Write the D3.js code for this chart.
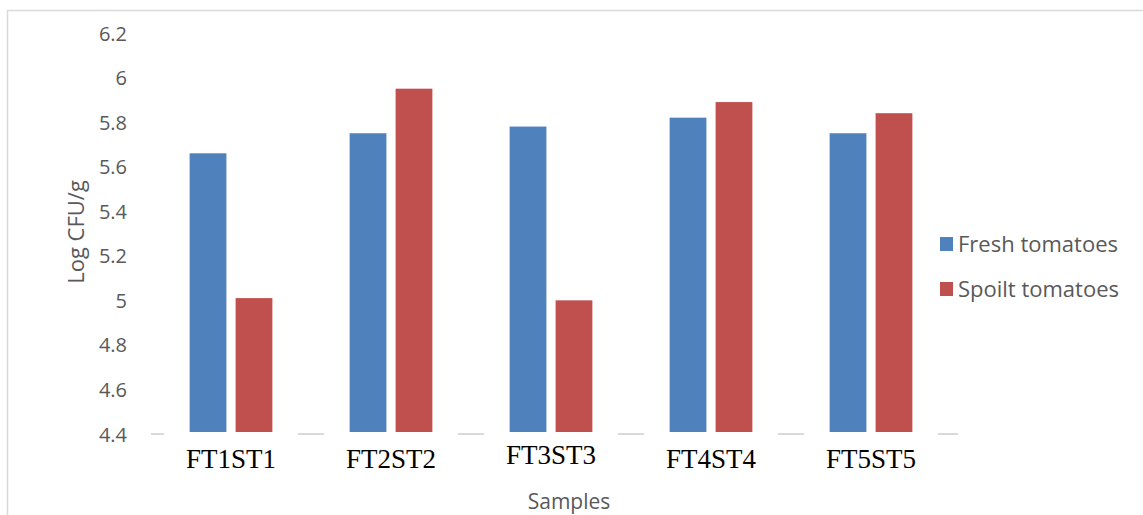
<!DOCTYPE html>
<html><head><meta charset="utf-8">
<script src="https://cdn.jsdelivr.net/npm/d3@7"></script>
<style>body{margin:0;background:#fff}svg{display:block}</style>
</head><body>
<svg id="c" width="1143" height="515"></svg>
<script>
const categories = ["FT1ST1","FT2ST2","FT3ST3","FT4ST4","FT5ST5"];
const seriesNames = ["Fresh tomatoes","Spoilt tomatoes"];
const fresh = [5.66, 5.75, 5.78, 5.82, 5.75];
const spoilt = [5.01, 5.95, 5.00, 5.89, 5.84];
const yTicks = [4.4, 4.6, 4.8, 5, 5.2, 5.4, 5.6, 5.8, 6, 6.2];
const labelShift = [0, 0, -4, 0, 0];
const colors = ["#4F81BD", "#C0504D"];

const svg = d3.select("#c");
// frame
svg.append("path").attr("d","M7.5,515 V10.5 H1143").attr("fill","none").attr("stroke","#D9D9D9").attr("stroke-width",1.5);

const x0 = d3.scaleBand().domain(categories).range([151, 951]).paddingInner(0).paddingOuter(0);
const x1 = d3.scaleBand().domain(seriesNames).range([0, x0.bandwidth()]).paddingInner(0.2).paddingOuter(0.84);
const y = d3.scaleLinear().domain([4.4, 6.2]).range([434, 33]);

// y tick labels
const yAxis = d3.axisLeft(y).tickValues(yTicks).tickSize(0).tickPadding(0).tickFormat(d => String(d));
const ya = svg.append("g").attr("transform","translate(127,0)").call(yAxis);
ya.select(".domain").remove();
ya.selectAll("text").attr("font-family","'Open Sans', sans-serif").attr("font-size",20).attr("fill","#595959").attr("dy","0.35em");

// x axis line
svg.append("line").attr("x1",151).attr("x2",958).attr("y1",434).attr("y2",434).attr("stroke","#D9D9D9").attr("stroke-width",2);

// label patches covering axis
svg.append("g").selectAll("rect").data(categories).join("rect")
  .attr("x", d => x0(d) + x0.bandwidth()/2 - 67).attr("width",134)
  .attr("y",433).attr("height",42).attr("fill","#fff");

// bars
const data = categories.map((c,i) => ({c, vals:[fresh[i], spoilt[i]]}));
const g = svg.append("g").selectAll("g").data(data).join("g").attr("transform", d => `translate(${x0(d.c)},0)`);
g.selectAll("rect").data(d => d.vals.map((v,j) => ({s:seriesNames[j], v, j}))).join("rect")
  .attr("x", d => x1(d.s)).attr("width", x1.bandwidth())
  .attr("y", d => y(d.v)).attr("height", d => y(4.4) - 2 - y(d.v))
  .attr("fill", d => colors[d.j]);

// category labels
const xAxis = d3.axisBottom(x0).tickSize(0).tickPadding(0);
const xa = svg.append("g").attr("transform","translate(0,468)").call(xAxis);
xa.select(".domain").remove();
xa.selectAll("text").attr("font-family","'Liberation Serif', 'Times New Roman', serif").attr("font-size",27).attr("fill","#000").attr("dy","0")
  .attr("y", (d,i) => labelShift[i]);

// axis titles
svg.append("text").attr("x",569).attr("y",509).attr("text-anchor","middle")
  .attr("font-family","'Open Sans', sans-serif").attr("font-size",21).attr("fill","#595959").text("Samples");
svg.append("text").attr("transform","translate(84,232) rotate(-90)").attr("text-anchor","middle")
  .attr("font-family","'Open Sans', sans-serif").attr("font-size",22).attr("fill","#595959").text("Log CFU/g");

// legend
const lg = svg.append("g").selectAll("g").data(seriesNames).join("g")
  .attr("transform",(d,i) => `translate(940,${237 + i*45})`);
lg.append("rect").attr("width",13).attr("height",14).attr("fill",(d,i)=>colors[i]);
lg.append("text").attr("x",18).attr("y",7).attr("dy","0.35em")
  .attr("font-family","'Open Sans', sans-serif").attr("font-size",22).attr("fill","#595959").text(d=>d);
</script>
</body></html>
